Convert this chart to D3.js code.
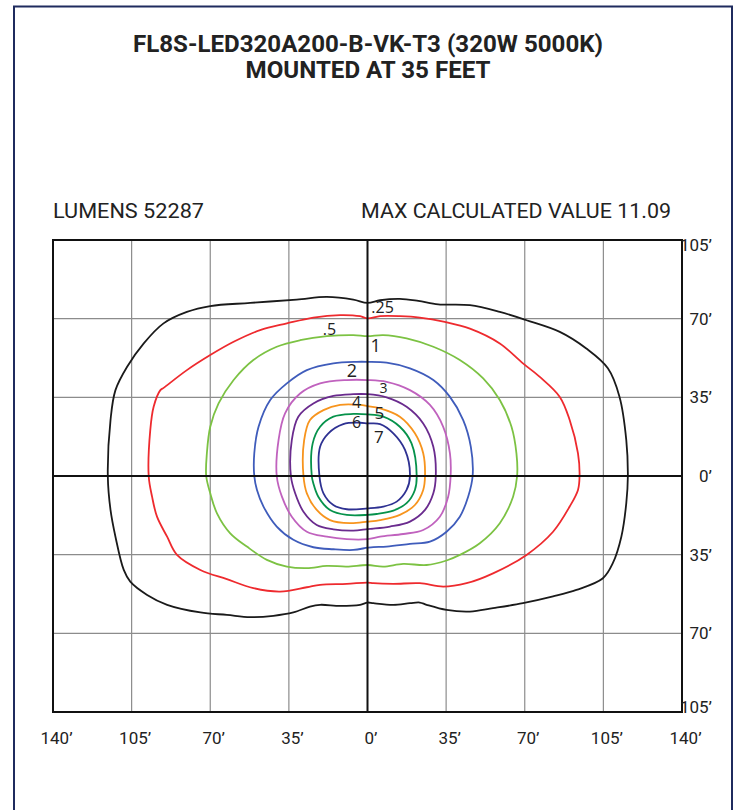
<!DOCTYPE html>
<html>
<head>
<meta charset="utf-8">
<script src="https://cdn.jsdelivr.net/npm/d3@7"></script>
<style>
  html, body { margin: 0; padding: 0; background: #fff; }
  svg { display: block; }
</style>
</head>
<body>
<svg id="chart" width="740" height="810"></svg>
<script>
// ---------- data ----------
const titleLines = ["FL8S-LED320A200-B-VK-T3 (320W 5000K)", "MOUNTED AT 35 FEET"];
const lumensText = "LUMENS 52287";
const maxText = "MAX CALCULATED VALUE 11.09";

const xTicks = [-140, -105, -70, -35, 0, 35, 70, 105, 140];
const yTicks = [105, 70, 35, 0, -35, -70, -105];
const xTickLabels = ["140’", "105’", "70’", "35’", "0’", "35’", "70’", "105’", "140’"];
const yTickLabels = ["105’", "70’", "35’", "0’", "35’", "70’", "105’"];

const levels = [".25", ".5", "1", "2", "3", "4", "5", "6", "7"];

const contour025 = [[-115.6,0],[-114.4,24.9],[-112.2,38.2],[-107,48.6],[-99.6,59],[-90.8,67.9],[-80.4,73],[-70,75.6],[-52.2,77],[-31.5,78.5],[-18.1,79.7],[-6.3,78.5],[0,77],[5.6,78.2],[14.4,78.8],[22.6,77.9],[31.5,76.4],[45.6,76],[58.9,73],[70.8,69.3],[85.6,64.1],[97.4,56.7],[107,47.9],[112.2,35.2],[115.2,16],[115.9,0],[115.2,-12.1],[113,-27],[109.2,-38.8],[104.8,-45.5],[93,-50.7],[82.6,-53.6],[69.2,-56.6],[55.9,-58.8],[45.6,-60.3],[35.2,-59.6],[26.3,-57.3],[23.3,-56.3],[18.9,-56.6],[11.5,-57.3],[2.6,-56.6],[0,-56.3],[-3.3,-57.3],[-12.2,-57.8],[-21.1,-57.3],[-25.6,-58.1],[-33,-60.7],[-41.9,-62.2],[-52.2,-62.8],[-62.6,-61.8],[-74.4,-60.7],[-89.2,-57.3],[-98.1,-52.9],[-105.6,-47],[-108.5,-41.8],[-112.2,-27],[-114.4,-15.1]];
const contour05 = [[-97.4,0],[-96.7,20.4],[-95.2,30.8],[-92.2,38.2],[-90.9,39.1],[-80.4,47.1],[-70,53.8],[-59.6,59.7],[-47.8,64.9],[-35.9,67.9],[-24.1,70.5],[-12.2,71.6],[-3.3,71.1],[0,70.1],[5.6,71.1],[14.4,71.1],[23.3,70.5],[34.4,68.6],[45.6,65.6],[58.9,59],[69.2,50.1],[76.7,44.1],[85.6,35.2],[90,24.9],[93.7,10.1],[94.4,0],[93.7,-6.2],[90,-13.6],[82.6,-24.8],[70.8,-35.1],[55.9,-43.3],[44.1,-47.7],[33.7,-49.2],[23.3,-47.7],[11.5,-48],[2.6,-47.7],[0,-47.4],[-9.2,-48],[-21.1,-48.4],[-27,-49.5],[-38.9,-51.4],[-50.8,-49.9],[-62.6,-45.9],[-74.4,-41.8],[-84.8,-35.1],[-89.2,-27],[-93.7,-18.1],[-95.9,-9.2]];
const contour1 = [[-71.8,0],[-71.5,10.1],[-70,21.9],[-66.3,32.3],[-59.6,42.7],[-50.8,51.6],[-40.4,57.5],[-30,60.4],[-18.1,62.2],[-6.3,62.7],[0,62.2],[7,62.7],[17.4,61.2],[29.3,57.5],[41.1,51.6],[51.5,43.4],[58.9,33.8],[64.1,21.9],[66.3,10.1],[66.6,0],[64.8,-9.2],[58.9,-21],[50,-29.9],[41.1,-35.1],[35.2,-37.6],[26.3,-39.6],[15.9,-39.1],[7,-40.3],[0,-39.6],[-9.2,-40.3],[-18.1,-40],[-27,-41],[-35.9,-40.3],[-44.8,-37.3],[-53.7,-31.4],[-61.1,-25.5],[-67,-16.6],[-70,-7.7]];
const contour2 = [[-50.4,0],[-50.4,10.1],[-48.5,21.9],[-43.3,33.8],[-35.9,41.2],[-27,47.1],[-15.2,50.1],[-4.8,50.8],[0,50.8],[8.5,50.4],[18.9,47.9],[29.3,42.7],[36.7,35.2],[42.6,24.9],[46,13],[46.8,0],[44.8,-9.2],[41.1,-18.1],[35.2,-24.8],[27.8,-29.2],[18.9,-30.2],[8.5,-31.4],[2.6,-31.6],[0,-31.9],[-6.3,-32.9],[-15.2,-32.6],[-24.1,-31.7],[-33,-28.4],[-40.4,-22.5],[-46.3,-13.6],[-49.2,-6.2]];
const contour3 = [[-40.4,0],[-39.6,16],[-36.7,27.9],[-30,36.7],[-21.1,41.2],[-9.2,42.7],[0,42.7],[8.5,41.9],[18.9,38.2],[27.8,31.6],[33.7,21.9],[36.7,10.1],[37,0],[35.9,-9.2],[32.2,-18.1],[24.8,-24],[15.9,-25.8],[5.6,-27],[0,-28.1],[-9.2,-28.1],[-18.1,-27],[-27,-24.8],[-33.7,-18.1],[-38.1,-9.2]];
const contour4 = [[-34.1,0],[-33.7,16],[-30.8,26.4],[-24.1,32.3],[-15.2,35.6],[-6.3,36.4],[0,36.4],[8.5,35],[17.4,30.8],[24.8,23.4],[29.3,13],[30.4,0],[29.3,-7.7],[25.6,-15.1],[18.9,-20.3],[10,-22.5],[2.6,-23.4],[0,-23.6],[-6.3,-24.3],[-15.2,-23.7],[-22.6,-21.8],[-28.5,-15.9],[-32.2,-7.7]];
const contour5 = [[-28.5,0],[-28.2,16],[-25.6,24.9],[-19.6,29.3],[-12.2,31.6],[-3.3,31.6],[0,31.1],[5.6,30.1],[14.4,26.4],[21.1,19],[24.8,10.1],[25.6,0],[24.8,-6.2],[21.1,-12.9],[14.4,-17.3],[5.6,-19.6],[0,-20.3],[-7.8,-21],[-16.7,-19.6],[-22.6,-15.1],[-27,-7.7]];
const contour6 = [[-24.8,0],[-24.4,14.5],[-21.1,21.9],[-15.2,26.4],[-6.3,27.6],[0,27.4],[7,26.4],[14.4,21.9],[19.6,14.5],[21.9,0],[21.1,-6.2],[17.4,-12.1],[11.5,-15.4],[4.1,-16.9],[0,-17.3],[-9.2,-17.3],[-16.7,-15.1],[-21.9,-9.2],[-24.1,-3.3]];
const contour7 = [[-21.4,0],[-21.1,13],[-17.4,19],[-10.8,23.1],[-3.3,23.7],[0,23.4],[5.6,23.1],[11.5,19],[16.7,11.6],[18.9,0],[17.4,-6.2],[13,-11.4],[7,-13.6],[0,-14.4],[-9.2,-14.8],[-15.2,-12.9],[-19.6,-7.7]];

const contours = [contour025, contour05, contour1, contour2, contour3, contour4, contour5, contour6, contour7];
// label anchor points (feet) for each level
const labelAnchors = [[6.7,72.4],[-16.9,62.7],[3.6,55.1],[-6.9,44],[7.1,36.9],[-4.9,30.4],[5.3,25.3],[-4.9,21.4],[5.1,14.7]];

// ---------- styles ----------
const colors = ["#1a1a1a", "#ee2a2e", "#7cc243", "#3f5cbb", "#c062be", "#6a2b8e", "#f7941d", "#06924b", "#2e3192"];
const labelSizes = [16, 16, 18, 18, 14, 16, 17, 16, 17];

// ---------- drawing ----------
const svg = d3.select("#chart");

// page frame
svg.append("path")
  .attr("d", "M14,830 L14,6.5 L732,6.5 L732,830")
  .attr("fill", "none").attr("stroke", "#1f2b5e").attr("stroke-width", 2);

// title
svg.selectAll("text.title").data(titleLines).join("text")
  .attr("class", "title")
  .attr("x", 368).attr("y", (d, i) => 52 + i * 26)
  .attr("text-anchor", "middle")
  .attr("font-family", "Roboto, 'Liberation Sans', sans-serif")
  .attr("font-weight", "bold")
  .attr("font-size", 24)
  .attr("fill", "#222")
  .attr("textLength", (d, i) => i === 0 ? 470 : 245)
  .attr("lengthAdjust", "spacingAndGlyphs")
  .text(d => d);

svg.append("text")
  .attr("x", 53).attr("y", 218)
  .attr("font-family", "Roboto, sans-serif").attr("font-size", 20).attr("fill", "#222")
  .attr("textLength", 151).attr("lengthAdjust", "spacingAndGlyphs")
  .text(lumensText);
svg.append("text")
  .attr("x", 361).attr("y", 218)
  .attr("font-family", "Roboto, sans-serif").attr("font-size", 20).attr("fill", "#222")
  .attr("textLength", 310).attr("lengthAdjust", "spacingAndGlyphs")
  .text(maxText);

// scales
const x = d3.scaleLinear().domain([-140, 140]).range([53, 682]);
const y = d3.scaleLinear().domain([-105, 105]).range([712, 240]);

// grid
const grid = svg.append("g");
grid.selectAll("line.v").data(xTicks.filter(d => d !== 0 && Math.abs(d) !== 140)).join("line")
  .attr("x1", d => x(d)).attr("x2", d => x(d)).attr("y1", y(105)).attr("y2", y(-105))
  .attr("stroke", "#8c8c8c").attr("stroke-width", 1.2);
grid.selectAll("line.h").data(yTicks.filter(d => d !== 0 && Math.abs(d) !== 105)).join("line")
  .attr("x1", x(-140)).attr("x2", x(140)).attr("y1", d => y(d)).attr("y2", d => y(d))
  .attr("stroke", "#8c8c8c").attr("stroke-width", 1.2);

// contours
const line = d3.line().x(d => x(d[0])).y(d => y(d[1])).curve(d3.curveCatmullRomClosed.alpha(0.5));
svg.append("g").selectAll("path").data(contours).join("path")
  .attr("d", d => line(d))
  .attr("fill", "none")
  .attr("stroke", (d, i) => colors[i])
  .attr("stroke-width", 1.8)
  .attr("stroke-linejoin", "round");

// center axes
svg.append("line").attr("x1", x(0)).attr("x2", x(0)).attr("y1", y(105)).attr("y2", y(-105))
  .attr("stroke", "#111").attr("stroke-width", 2);
svg.append("line").attr("x1", x(-140)).attr("x2", x(140)).attr("y1", y(0)).attr("y2", y(0))
  .attr("stroke", "#111").attr("stroke-width", 2);

// plot frame
svg.append("rect")
  .attr("x", x(-140)).attr("y", y(105))
  .attr("width", x(140) - x(-140)).attr("height", y(-105) - y(105))
  .attr("fill", "none").attr("stroke", "#111").attr("stroke-width", 2);

// contour labels
svg.append("g").selectAll("text").data(levels).join("text")
  .attr("x", (d, i) => x(labelAnchors[i][0]))
  .attr("y", (d, i) => y(labelAnchors[i][1]))
  .attr("text-anchor", "middle")
  .attr("font-family", "'Open Sans', 'DejaVu Sans', sans-serif")
  .attr("font-size", (d, i) => labelSizes[i])
  .attr("fill", "#222")
  .text(d => d);

// bottom axis
const xAxis = d3.axisBottom(x).tickValues(xTicks).tickSize(0).tickPadding(20)
  .tickFormat((d, i) => xTickLabels[i]);
const gx = svg.append("g").attr("transform", `translate(3,${y(-105)})`).call(xAxis);
gx.select(".domain").remove();
gx.selectAll("text").attr("font-family", "Roboto, sans-serif").attr("font-size", 17).attr("fill", "#222");

// right axis labels
const yLabelShift = d => d === 105 ? 11 : (d === -105 ? 1 : 6);
svg.append("g").selectAll("text").data(yTicks).join("text")
  .attr("x", 712)
  .attr("y", d => y(d) + yLabelShift(d))
  .attr("text-anchor", "end")
  .attr("font-family", "Roboto, sans-serif").attr("font-size", 17).attr("fill", "#222")
  .text((d, i) => yTickLabels[i]);
</script>
</body>
</html>
